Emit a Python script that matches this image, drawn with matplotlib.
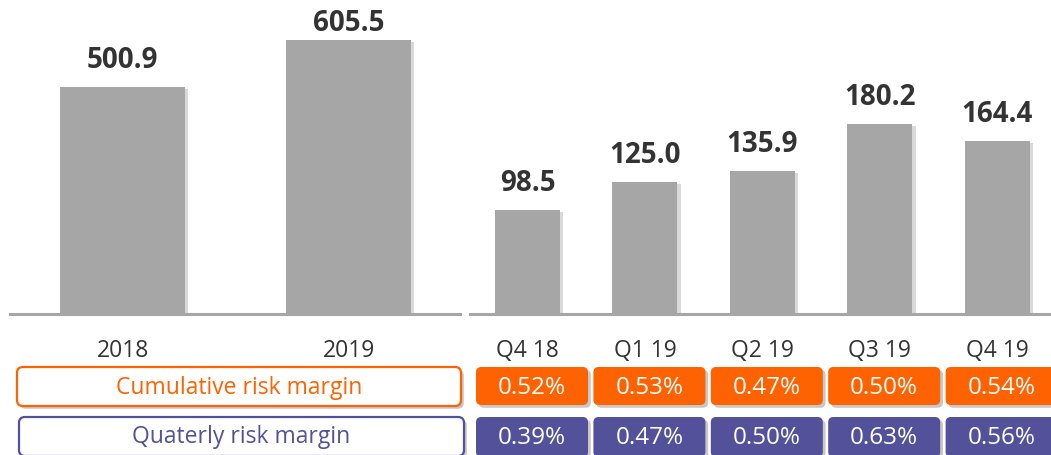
import matplotlib
matplotlib.use('Agg')
import matplotlib.pyplot as plt
import matplotlib.patheffects as pe
import matplotlib.transforms as mtrans
from matplotlib.patches import FancyBboxPatch

# ---------------- data ----------------
years = ['2018', '2019']
year_values = [500.9, 605.5]
quarters = ['Q4 18', 'Q1 19', 'Q2 19', 'Q3 19', 'Q4 19']
quarter_values = [98.5, 125.0, 135.9, 180.2, 164.4]
cumulative_margin = ['0.52%', '0.53%', '0.47%', '0.50%', '0.54%']
quarterly_margin = ['0.39%', '0.47%', '0.50%', '0.63%', '0.56%']
row_labels = ['Cumulative risk margin', 'Quaterly risk margin']

# ---------------- style ----------------
plt.rcParams['font.family'] = ['Open Sans', 'DejaVu Sans']
GREY = '#a6a6a6'
TXT = '#333333'
ORANGE = '#ff6200'
PURPLE = '#525199'

W, H = 1051, 456
fig = plt.figure(figsize=(W / 100, H / 100), dpi=100)


def fx(p):
    return p / W


def fy(p):
    return 1 - p / H


BASE = 315  # baseline pixel row
ax1 = fig.add_axes([fx(10), fy(BASE), fx(450), BASE / H])
ax2 = fig.add_axes([fx(470), fy(BASE), fx(581), BASE / H])

pitch1, pitch2 = 226.0, 117.4
ax1.set_xlim(-112.5 / pitch1, 337.5 / pitch1)
ax1.set_ylim(0, BASE / 0.4525)
ax2.set_xlim(-57.5 / pitch2, 523.5 / pitch2)
ax2.set_ylim(0, BASE / 1.0535)

shadow = [pe.SimplePatchShadow(offset=(2.5, -1.5), shadow_rgbFace='black', alpha=0.15), pe.Normal()]

for ax, cats, vals, width in ((ax1, years, year_values, 125 / pitch1),
                              (ax2, quarters, quarter_values, 65 / pitch2)):
    xs = list(range(len(vals)))
    bars = ax.bar(xs, vals, width=width, color=GREY, zorder=2)
    for b in bars:
        b.set_path_effects(shadow)
    ax.axhline(0, color=GREY, lw=2.2, clip_on=False, zorder=3)
    ymax = ax.get_ylim()[1]
    pad = 20 * ymax / BASE
    for i, v in enumerate(vals):
        ax.text(i, min(v + pad, 0.9 * ymax), f'{v:.1f}', ha='center', va='baseline',
                fontsize=20, fontweight='bold', color=TXT)
    trans = mtrans.blended_transform_factory(ax.transData, fig.transFigure)
    for i, c in enumerate(cats):
        ax.text(i, fy(357), c, transform=trans, ha='center', va='baseline',
                fontsize=16.5, color=TXT)
    ax.axis('off')

# ---------------- table cells ----------------
axT = fig.add_axes([fx(470), 0, fx(581), fy(360)])
axT.set_xlim(ax2.get_xlim())
axT.set_ylim(H, 360)
axT.axis('off')

cell_w = 112 / pitch2
off = 4.5 / pitch2
cell_shadow = [pe.SimplePatchShadow(offset=(2, -2), shadow_rgbFace='black', alpha=0.22), pe.Normal()]
rows = [(cumulative_margin, ORANGE, 368, 406, 394),
        (quarterly_margin, PURPLE, 418, 458, 444)]
for vals, col, top, bot, base in rows:
    for i, t in enumerate(vals):
        p = FancyBboxPatch((i + off - cell_w / 2, top), cell_w, bot - top,
                           boxstyle='round,pad=0,rounding_size=0.045',
                           mutation_aspect=pitch2, fc=col, ec='none')
        p.set_path_effects(cell_shadow)
        axT.add_patch(p)
        axT.text(i + off, base, t, ha='center', va='baseline', fontsize=17.5, color='white')

# ---------------- row labels ----------------
axL = fig.add_axes([0, 0, fx(470), fy(360)])
axL.set_xlim(0, 470)
axL.set_ylim(H, 360)
axL.axis('off')
legend_rows = [(row_labels[0], ORANGE, 17, 368, 444, 39, 394),
               (row_labels[1], PURPLE, 19, 418, 445, 39, 443)]
for lab, col, x0, y0, w, h, base in legend_rows:
    p = FancyBboxPatch((x0, y0), w, h, boxstyle='round,pad=0,rounding_size=6',
                       fc='white', ec=col, lw=1.6)
    p.set_path_effects(cell_shadow)
    axL.add_patch(p)
    axL.text(x0 + w / 2, base, lab, ha='center', va='baseline', fontsize=16.5, color=col)

fig.savefig('out.png', dpi=100)
